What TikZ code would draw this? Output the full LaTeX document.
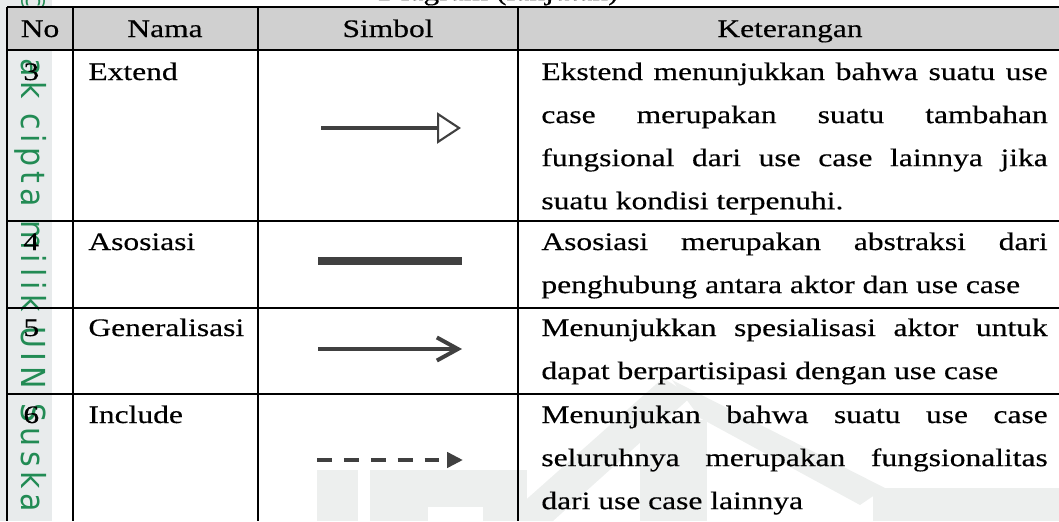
\documentclass[tikz,border=0pt]{standalone}
\usepackage{fontspec}
\setmainfont{Liberation Serif}[FakeStretch=1.25,FakeBold=0.4]
\newfontfamily\wmfont{DejaVu Sans}[LetterSpace=16]
\usetikzlibrary{arrows.meta}
\definecolor{headgray}{RGB}{208,208,208}
\definecolor{stripgray}{RGB}{232,235,236}
\definecolor{wmgray}{RGB}{237,239,238}
\definecolor{wmgreen}{RGB}{34,139,84}
\definecolor{symgray}{RGB}{64,64,64}

\begin{document}
\begin{tikzpicture}[x=0.476pt,y=-0.476pt,
  every node/.style={font=\fontsize{12}{20.5}\selectfont,inner sep=0pt},
  rule/.style={line width=1.1pt},
  cell/.style={anchor=base west},
  head/.style={anchor=base},
  desc/.style={anchor=base west,text width=241pt,align=justify},
  sym/.style={draw=symgray,line width=2.1pt}]
\useasboundingbox (0,0) rectangle (1059,521);
\clip (0,0) rectangle (1059,521);

% watermark
\fill[stripgray] (0,0) rectangle (52,521);
\fill[wmgray] (317,470) rectangle (358,521);
\fill[wmgray] (370,470) rectangle (527,521);
\fill[white] (428,507) rectangle (483,521);
\fill[wmgray] (663,378) -- (692,396) -- (553,521) -- (520,521) -- (520,505) -- cycle;
\fill[wmgray] (672,380) -- (885,488) -- (860,505) -- (700,418) -- cycle;
\fill[wmgray] (640,420) rectangle (707,521);
\fill[wmgray] (873,488) rectangle (1059,521);
\node[rotate=-90,anchor=base west,text=wmgreen,font=\wmfont\fontsize{14.3}{16}\selectfont] (wm) at (21,-14)
  {\scalebox{1}[1.1]{© Hak cipta milik UIN Suska Riau}};

% header
\fill[headgray] (7,7) rectangle (1059,50);
\node[anchor=base east] (cap) at (619,0) {Diagram (lanjutan)};
\node[head] (h-no) at (40,37) {No};
\node[head] (h-nama) at (165,37) {Nama};
\node[head] (h-simbol) at (388,37) {Simbol};
\node[head] (h-ket) at (790,37) {Keterangan};

% rules
\draw[rule] (7,7) -- (1059,7);
\foreach \y in {50,221,308,394}
  \draw[rule] (7,\y) -- (1059,\y);
\foreach \x in {7,73,258,518}
  \draw[line width=1pt] (\x,7) -- (\x,521);

% rows
\node[cell] (no3) at (23,80) {3};
\node[cell] (nama3) at (88,80) {Extend};
\node[desc] (ket3) at (541,80) {Ekstend menunjukkan bahwa suatu use\linebreak
  case merupakan suatu tambahan\linebreak
  fungsional dari use case lainnya jika\linebreak
  suatu kondisi terpenuhi.};

\node[cell] (no4) at (23,250) {4};
\node[cell] (nama4) at (88,250) {Asosiasi};
\node[desc] (ket4) at (541,250) {Asosiasi merupakan abstraksi dari\linebreak
  penghubung antara aktor dan use case};

\node[cell] (no5) at (23,336) {5};
\node[cell] (nama5) at (88,336) {Generalisasi};
\node[desc] (ket5) at (541,336) {Menunjukkan spesialisasi aktor untuk\linebreak
  dapat berpartisipasi dengan use case};

\node[cell] (no6) at (23,423) {6};
\node[cell] (nama6) at (88,423) {Include};
\node[desc] (ket6) at (541,423) {Menunjukan bahwa suatu use case\linebreak
  seluruhnya merupakan fungsionalitas\linebreak
  dari use case lainnya};

% symbols
\coordinate (ext-s) at (321,128);
\coordinate (ext-e) at (461,128);
\draw[sym,-{Triangle[open,length=11.4pt,width=14.8pt,line width=1pt]}] (ext-s) -- (ext-e);
\coordinate (aso-s) at (318,261);
\coordinate (aso-e) at (462,261);
\draw[sym,line width=3.7pt] (aso-s) -- (aso-e);
\coordinate (gen-s) at (318,349);
\coordinate (gen-e) at (462,349);
\draw[sym,-{Straight Barb[length=10pt,width=11pt,line width=1.9pt]}] (gen-s) -- (gen-e);
\coordinate (inc-s) at (317,460);
\coordinate (inc-e) at (463,460);
\draw[sym,dash pattern=on 7.1pt off 5.7pt,-{Triangle[length=7.6pt,width=7.2pt]}] (inc-s) -- (inc-e);
\end{tikzpicture}
\end{document}
